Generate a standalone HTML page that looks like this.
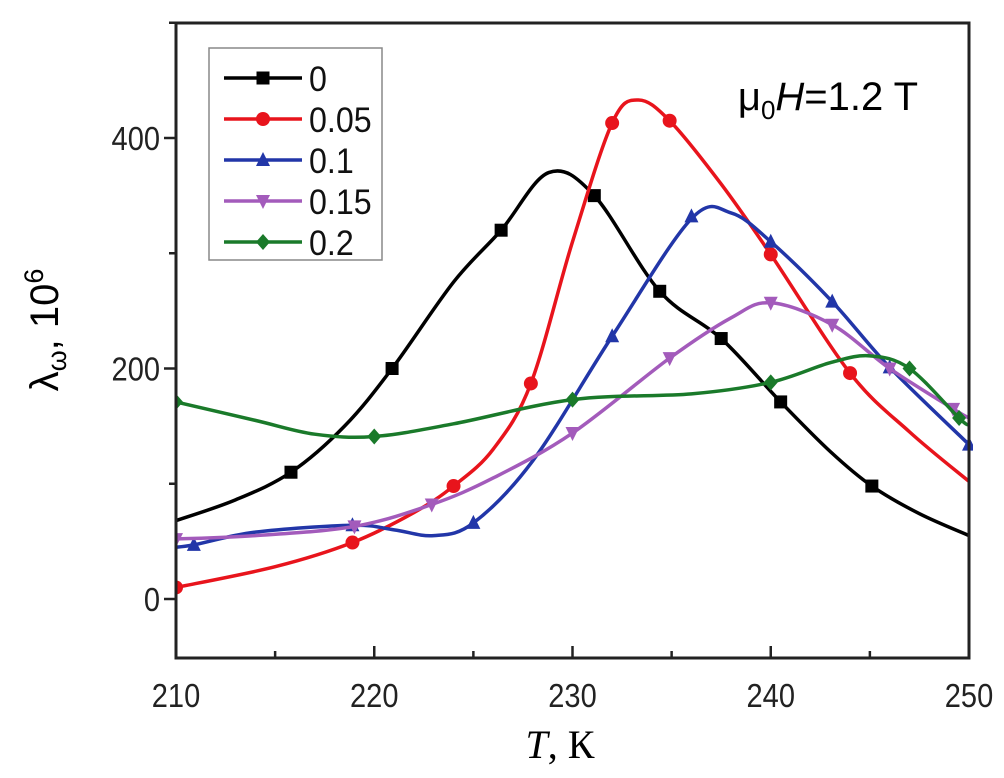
<!DOCTYPE html>
<html><head><meta charset="utf-8"><style>
body{margin:0;background:#fff;}
svg{display:block;font-family:"Liberation Sans",sans-serif;}
</style></head><body>
<svg id="chart" width="1004" height="778">
<rect x="0" y="0" width="1004" height="778" fill="#fff"/>
<g id="plot"></g>
<g id="axes"></g>
<text x="828" y="110" font-size="40" text-anchor="middle">μ<tspan font-size="26" dy="9">0</tspan><tspan dy="-9" font-style="italic">H</tspan>=1.2 T</text>
<text transform="translate(58,330) rotate(-90)" font-size="40" text-anchor="middle">λ<tspan font-size="27" dy="8">ω</tspan><tspan dy="-8">, 10</tspan><tspan font-size="27" dy="-15">6</tspan></text>
<text x="560" y="758" font-size="40" text-anchor="middle" font-family="Liberation Serif, serif"><tspan font-style="italic">T</tspan>, К</text>
<g id="legend"></g>
</svg>
<script>
const labels=["0","0.05","0.1","0.15","0.2"];
const colors=["#000000","#e8141c","#2236a8","#a35bbb","#1a7a2a"];
const shapes=["square","circle","up","down","diamond"];
const lineT0=[210,213,215.8,218.5,220.9,224,226.4,228.8,231.1,234.4,237.5,240.5,243,245.1,247.5,250];
const lineV0=[68,86,110,150,200,275,320,370,350,267,226,171,128,98,74,55];
const markT0=[215.8,220.9,226.4,231.1,234.4,237.5,240.5,245.1];
const markV0=[110,200,320,350,267,226,171,98];
const lineT1=[210,215,218.9,222,224,226,227.9,230,232,233.3,234.9,237.5,240,244,247,250];
const lineV1=[10,28,49,75,98,130,187,310,413,433,415,360,299,196,145,102];
const markT1=[210,218.9,224,227.9,232,234.9,240,244];
const markV1=[10,49,98,187,413,415,299,196];
const lineT2=[210,210.9,214,218.9,221,223,225,228,232,236,238,240,243.1,246,250];
const lineV2=[45,47,58,64,60,55,66,120,228,330,335,310,258,201,134];
const markT2=[210.9,218.9,225,232,236,240,243.1,246,250];
const markV2=[47,64,66,228,332,310,258,201,134];
const lineT3=[210,214,219,222.9,226,230,234.9,238,240,243.1,246,249.2,250];
const lineV3=[52,55,63,82,105,144,209,244,257,238,200,165,157];
const markT3=[210,219,222.9,230,234.9,240,243.1,246,249.2];
const markV3=[52,63,82,144,209,257,238,200,165];
const lineT4=[210,214,217,220,224,230,236,240,243,245,247,249.5,250];
const lineV4=[171,155,143,141,152,173,178,188,205,211,200,157,151];
const markT4=[210,220,230,240,247,249.5];
const markV4=[171,141,173,188,200,157];
const xTicks=[210,220,230,240,250];
const yTicks=[0,200,400];
const lines=[[lineT0,lineV0],[lineT1,lineV1],[lineT2,lineV2],[lineT3,lineV3],[lineT4,lineV4]];
const marks=[[markT0,markV0],[markT1,markV1],[markT2,markV2],[markT3,markV3],[markT4,markV4]];

const L=176,R=969,T=23,B=658,xmin=210,xmax=250;
const X=t=>L+(t-xmin)/(xmax-xmin)*(R-L);
const Y=v=>599-(v)*(599-138)/400;
const NS="http://www.w3.org/2000/svg";
function mk(tag,attrs,parent){const e=document.createElementNS(NS,tag);for(const k in attrs)e.setAttribute(k,attrs[k]);parent.appendChild(e);return e;}
function smooth(pts){let d=`M${pts[0][0]},${pts[0][1]}`;for(let i=0;i<pts.length-1;i++){const p0=pts[Math.max(i-1,0)],p1=pts[i],p2=pts[i+1],p3=pts[Math.min(i+2,pts.length-1)];d+=`C${p1[0]+(p2[0]-p0[0])/6},${p1[1]+(p2[1]-p0[1])/6} ${p2[0]-(p3[0]-p1[0])/6},${p2[1]-(p3[1]-p1[1])/6} ${p2[0]},${p2[1]}`;}return d;}
function marker(shape,x,y,c,parent){const s=7;let e;
 if(shape==="square")e=mk("rect",{x:x-s+0.5,y:y-s+0.5,width:2*s-1,height:2*s-1,fill:c},parent);
 else if(shape==="circle")e=mk("circle",{cx:x,cy:y,r:s,fill:c},parent);
 else if(shape==="up")e=mk("polygon",{points:`${x},${y-s-1} ${x-s},${y+s-1} ${x+s},${y+s-1}`,fill:c},parent);
 else if(shape==="down")e=mk("polygon",{points:`${x},${y+s+1} ${x-s},${y-s+1} ${x+s},${y-s+1}`,fill:c},parent);
 else e=mk("polygon",{points:`${x},${y-s-1} ${x+s},${y} ${x},${y+s+1} ${x-s},${y}`,fill:c},parent);
 return e;}
const plot=document.getElementById("plot");
const cp=mk("clipPath",{id:"clip"},plot);
mk("rect",{x:L,y:T,width:R-L+4,height:B-T},cp);
const g=mk("g",{"clip-path":"url(#clip)"},plot);
lines.forEach((ln,i)=>{
 const p=mk("path",{d:smooth(ln[0].map((t,j)=>[X(t),Y(ln[1][j])])),fill:"none",stroke:colors[i],"stroke-width":3.5},g);
 
 
 marks[i][0].forEach((t,j)=>{const m=marker(shapes[i],X(t),Y(marks[i][1][j]),colors[i],g);
  
  });
});
const ax=document.getElementById("axes");
const frame=mk("rect",{x:L,y:T,width:R-L,height:B-T,fill:"none",stroke:"#222","stroke-width":3},ax);


for(let t=210;t<=250;t+=5){const maj=t%10===0;mk("line",{x1:X(t),x2:X(t),y1:B,y2:B-(maj?12:7),stroke:"#222","stroke-width":2.5},ax);}
xTicks.forEach(t=>{const e=mk("text",{x:X(t),y:B+49,"font-size":33,"text-anchor":"middle",fill:"#222",transform:`translate(${X(t)},0) scale(0.88,1) translate(${-X(t)},0)`},ax);e.textContent=t;
 
 });
for(let v=0;v<=500;v+=100){const maj=v%200===0;mk("line",{x1:L,x2:L-(maj?12:7),y1:Y(v),y2:Y(v),stroke:"#222","stroke-width":2.5},ax);}
yTicks.forEach(v=>{const e=mk("text",{x:L-16,y:Y(v)+12,"font-size":33,"text-anchor":"end",fill:"#222",transform:`translate(${L-16},0) scale(0.88,1) translate(${-(L-16)},0)`},ax);e.textContent=v;
 
 });
const lg=document.getElementById("legend");


mk("rect",{x:209,y:48,width:173,height:212,fill:"#fff",stroke:"#888","stroke-width":1.5},lg);
labels.forEach((lab,i)=>{const y=78+i*41;
 const e=mk("g",{},lg);
 
 
 mk("line",{x1:224,x2:302,y1:y,y2:y,stroke:colors[i],"stroke-width":3.5},e);
 marker(shapes[i],263,y,colors[i],e);
 const t=mk("text",{x:309,y:y+13,"font-size":35,fill:"#111",transform:`translate(309,0) scale(0.92,1) translate(-309,0)`},e);t.textContent=lab;});
</script>
</body></html>
